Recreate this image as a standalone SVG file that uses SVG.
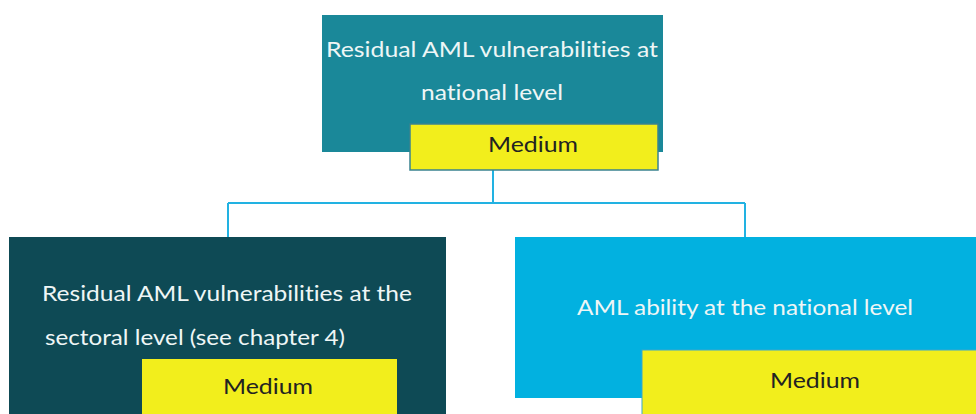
<svg xmlns="http://www.w3.org/2000/svg" width="976" height="414" viewBox="0 0 976 414">
<style>
.lbl{font-family:Lato,"Open Sans","Liberation Sans",sans-serif;font-size:22px;fill:#eef6f6;font-variant-ligatures:none}
.med{font-family:Lato,"Open Sans","Liberation Sans",sans-serif;font-size:22px;fill:#222;text-anchor:middle}
.yel{fill:#f2ee1c}
.conn{stroke:#22b2e2;stroke-width:2;fill:none}
</style>
<rect width="976" height="414" fill="#fff"/>
<g id="connectors">
<path class="conn" d="M493 170 V203 M228 203 H745 M228 203 V237 M745 203 V237"/>
</g>
<g id="top">
<rect x="322" y="15" width="341" height="137" fill="#1a8899"/>
<text class="lbl" x="492" y="57" text-anchor="middle" textLength="332" lengthAdjust="spacingAndGlyphs">Residual AML vulnerabilities at</text>
<text class="lbl" x="492" y="100" text-anchor="middle" textLength="142" lengthAdjust="spacingAndGlyphs">national level</text>
<rect class="yel" x="410" y="124" width="248" height="46" stroke="#3a8290" stroke-width="1.5"/>
<text class="med" x="533" y="152" textLength="90" lengthAdjust="spacingAndGlyphs">Medium</text>
</g>
<g id="left">
<rect x="9" y="237" width="437" height="190" fill="#0e4a55"/>
<text class="lbl" x="42" y="301" textLength="370" lengthAdjust="spacingAndGlyphs">Residual AML vulnerabilities at the</text>
<text class="lbl" x="45" y="345" textLength="300" lengthAdjust="spacingAndGlyphs">sectoral level (see chapter 4)</text>
<rect class="yel" x="142" y="359" width="255" height="70"/>
<text class="med" x="268" y="394" textLength="90" lengthAdjust="spacingAndGlyphs">Medium</text>
</g>
<g id="right">
<rect x="515" y="237" width="461" height="161" fill="#02b1e0"/>
<text class="lbl" x="745" y="315" text-anchor="middle" textLength="336" lengthAdjust="spacingAndGlyphs">AML ability at the national level</text>
<rect class="yel" x="642" y="350" width="340" height="70" stroke="#3aa8cc" stroke-width="1"/>
<text class="med" x="815" y="388" textLength="90" lengthAdjust="spacingAndGlyphs">Medium</text>
</g>
</svg>
